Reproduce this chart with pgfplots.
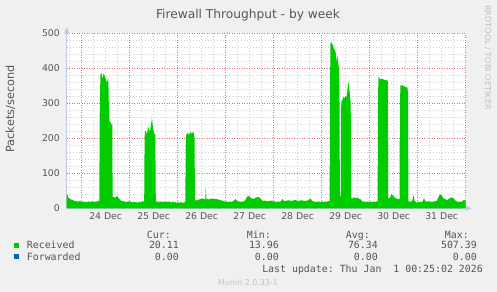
\documentclass[border=0pt]{standalone}
\usepackage{fontspec}
\setmainfont{DejaVu Sans}
\newfontfamily\mono{DejaVu Sans Mono}
\usepackage{pgfplots}
\pgfplotsset{compat=1.18}
\usetikzlibrary{arrows.meta}
\definecolor{bgc}{RGB}{240,240,240}
\definecolor{recv}{HTML}{00CC00}
\definecolor{fwd}{HTML}{0066B3}
\definecolor{axisc}{RGB}{192,200,240}
\definecolor{mgridc}{RGB}{232,110,110}
\definecolor{gridc}{RGB}{208,208,208}
\definecolor{textc}{RGB}{85,85,85}
\definecolor{wmc}{RGB}{195,195,195}
\pgfplotsset{layers/mylayers/.define layer set={axis background,axis grid,axis ticks,main,axis lines,axis tick labels,axis descriptions,axis foreground}{}}
\begin{document}
\begin{tikzpicture}
\fill[bgc] (0,0) rectangle (497bp,292bp);
\begin{axis}[
  set layers=mylayers,
  at={(66.7bp,83.7bp)}, anchor=south west,
  scale only axis, width=399bp, height=175bp,
  xmin=66.7, xmax=465.7, ymin=0, ymax=500,
  axis background/.style={fill=white},
  axis x line*=bottom, axis y line*=left,
  axis line style={draw=axisc, line width=1bp, -{Triangle[length=6bp,width=5bp]}, shorten >=-6bp},
  xtick={105.7,153.7,201.7,249.7,297.7,345.7,393.7,441.7},
  xticklabels={24 Dec,25 Dec,26 Dec,27 Dec,28 Dec,29 Dec,30 Dec,31 Dec},
  minor xtick={69.7,93.7,105.7,117.7,141.7,153.7,165.7,189.7,201.7,213.7,237.7,249.7,261.7,285.7,297.7,309.7,333.7,345.7,357.7,381.7,393.7,405.7,429.7,441.7,453.7},
  extra x ticks={81.7,129.7,177.7,225.7,273.7,321.7,369.7,417.7,465.7},
  extra x tick labels={},
  extra x tick style={grid=major},
  xmajorgrids=false, xminorgrids=true,
  ytick={0,100,200,300,400,500},
  yticklabels={0,100,200,300,400,500},
  minor y tick num=4,
  ymajorgrids=true, yminorgrids=true,
  major grid style={draw=mgridc, dash pattern=on 1bp off 1.5bp, line width=1bp},
  minor grid style={draw=gridc, dash pattern=on 1bp off 2bp, line width=0.8bp},
  major tick length=0pt, minor tick length=0pt,
  tick style={draw=none},
  /pgf/number format/assume math mode=true,
  ticklabel style={font=\fontsize{9.3bp}{10bp}\selectfont, color=textc, inner sep=0pt},
  xticklabel style={anchor=base, yshift=-11.7bp},
  yticklabel style={anchor=east, xshift=-6.7bp},
]
\addplot[fill=recv, draw=none] coordinates {
(66.7,40) (67.5,38) (68.5,30) (70,27) (72,24) (74,22) (76,20) (78,19) (80,21) (82,18) (84,19) (86,17) (88,19) (90,18) (92,20) (94,18) (96,19) (98,20) (99.3,22)
(99.8,300) (100.5,383) (101.5,387) (102.5,370) (103.5,385) (104.5,380) (105.5,372) (106.5,360) (107.5,365) (108.3,371) (108.8,300) (109.5,250) (110.5,245) (111.5,240) (112.3,238) (112.6,30)
(113,33) (115,30) (117,35) (119,28) (121,22) (123,20) (125,19) (127,18) (129,20) (131,18) (133,17) (135,18) (137,16) (139,18) (141,17) (143,20) (144.2,20)
(144.6,200) (145,222) (146,220) (147,210) (148,235) (149,225) (150,218) (151,240) (152,257) (153,230) (154,215) (155.3,210) (155.8,20)
(157,19) (159,18) (161,19) (163,18) (165,19) (167,18) (169,19) (171,17) (173,18) (175,17) (177,16) (179,16) (181,17) (183,16) (185.3,17)
(185.8,200) (186.5,212) (188,215) (189,210) (190,214) (191,218) (192,212) (193,219) (194,214) (194.5,200) (195,24)
(196,22) (198,24) (200,26) (202,28) (204,27) (205.3,24) (205.8,60) (206.4,28) (208,25) (210,27) (212,28) (214,26) (216,27) (218,25) (220,24) (222,22) (224,20) (226,19) (228,19) (230,18) (232,19) (234,22) (235.5,26) (237,22) (239,19) (241,18) (243,19) (245,22) (246.5,30) (248,35) (249.5,34) (251,29) (253,27) (254.5,28) (256,31) (258,32) (260,30) (261.5,24) (263,21) (265,22) (267,20) (269,21) (271,22) (273,20) (275,19) (277,18) (279,19) (281,20) (282.3,27) (283.5,22) (285,21) (287,22) (289,23) (291,21) (293,22) (295,24) (297,22) (299,21) (301,23) (303,22) (305,21) (307,22) (309,24) (310.7,28) (312,21) (314,19) (316,18) (318,19) (320,18) (322,19) (324,18) (326,19) (328,20) (329.6,21)
(330,300) (330.4,470) (331,476) (332,470) (333,465) (334,455) (335,452) (336,440) (336.7,414) (337.3,438) (338,420) (339,400) (339.5,300) (339.9,35) (340.8,35) (341.2,290) (341.5,305) (342.5,310) (343.5,318) (344.5,315) (345.5,320) (346.5,318) (347.5,340) (348.5,362) (349.3,340) (350,320) (350.7,300) (351.1,28)
(352,30) (353,27) (354,32) (356,28) (357.5,31) (359,27) (360.5,26) (362,20) (364,19) (366,18) (368,19) (370,18) (372,19) (374,18) (376,19) (377.6,20)
(378,300) (378.4,376) (379,372) (380,370) (381,368) (382,370) (383,369) (384,367) (385,366) (386,367) (387,365) (387.8,364) (388.2,28)
(390,30) (391,38) (392,40) (393,36) (394,32) (395,30) (397,27) (399.5,26)
(399.9,300) (400.5,352) (401.5,350) (402.5,352) (403.5,348) (404.5,349) (405.5,345) (406.5,346) (407.5,344) (408,330) (408.4,20)
(410,19) (412,20) (413.7,38) (414.5,22) (416,17) (418,17) (420,18) (422,17) (424,28) (425.5,20) (427,19) (429,20) (431,18) (433,19) (435,20) (437,22) (438.5,32) (440,40) (441.5,38) (443,30) (445,26) (447,24) (449,27) (451,31) (453,30) (454.5,25) (456,20) (458,19) (460,18) (462,19) (464,25) (465.7,20)
} \closedcycle;
\end{axis}
% title and side texts
\node[anchor=base, text=textc, font=\fontsize{12.2bp}{14bp}\selectfont, inner sep=0pt] at (248bp,273.5bp) {Firewall Throughput - by week};
\node[anchor=base, rotate=90, text=textc, font=\fontsize{11.3bp}{13bp}\selectfont, inner sep=0pt] at (14bp,183bp) {Packets/second};
\node[anchor=base, rotate=-90, text=wmc, font=\fontsize{8.15bp}{9bp}\selectfont, inner sep=0pt] at (485bp,234.5bp) {RRDTOOL / TOBI OETIKER};
% legend
\fill[recv] (14.3bp,44.3bp) rectangle (19.3bp,49.3bp);
\fill[fwd] (14.3bp,32.7bp) rectangle (19.3bp,37.7bp);
\begin{scope}[every node/.style={inner sep=0pt, text=textc, font=\mono\fontsize{9.9bp}{11bp}\selectfont}]
\node[anchor=base east] at (171bp,53.5bp) {Cur:};
\node[anchor=base east] at (271bp,53.5bp) {Min:};
\node[anchor=base east] at (370bp,53.5bp) {Avg:};
\node[anchor=base east] at (469bp,53.5bp) {Max:};
\node[anchor=base west] at (26.7bp,43bp) {Received};
\node[anchor=base east] at (179bp,43bp) {20.11};
\node[anchor=base east] at (279bp,43bp) {13.96};
\node[anchor=base east] at (378bp,43bp) {76.34};
\node[anchor=base east] at (477bp,43bp) {507.39};
\node[anchor=base west] at (26.7bp,31.5bp) {Forwarded};
\node[anchor=base east] at (179bp,31.5bp) {0.00};
\node[anchor=base east] at (279bp,31.5bp) {0.00};
\node[anchor=base east] at (378bp,31.5bp) {0.00};
\node[anchor=base east] at (477bp,31.5bp) {0.00};
\node[anchor=base east] at (483bp,19.5bp) {Last update:~Thu Jan~~1 00:25:02 2026};
\end{scope}
\node[anchor=base, inner sep=0pt, text=wmc, font=\fontsize{7.9bp}{9bp}\selectfont] at (248bp,7bp) {Munin 2.0.33-1};
\pgfresetboundingbox
\path[use as bounding box] (0,0) rectangle (497bp,292bp);
\end{tikzpicture}
\end{document}
